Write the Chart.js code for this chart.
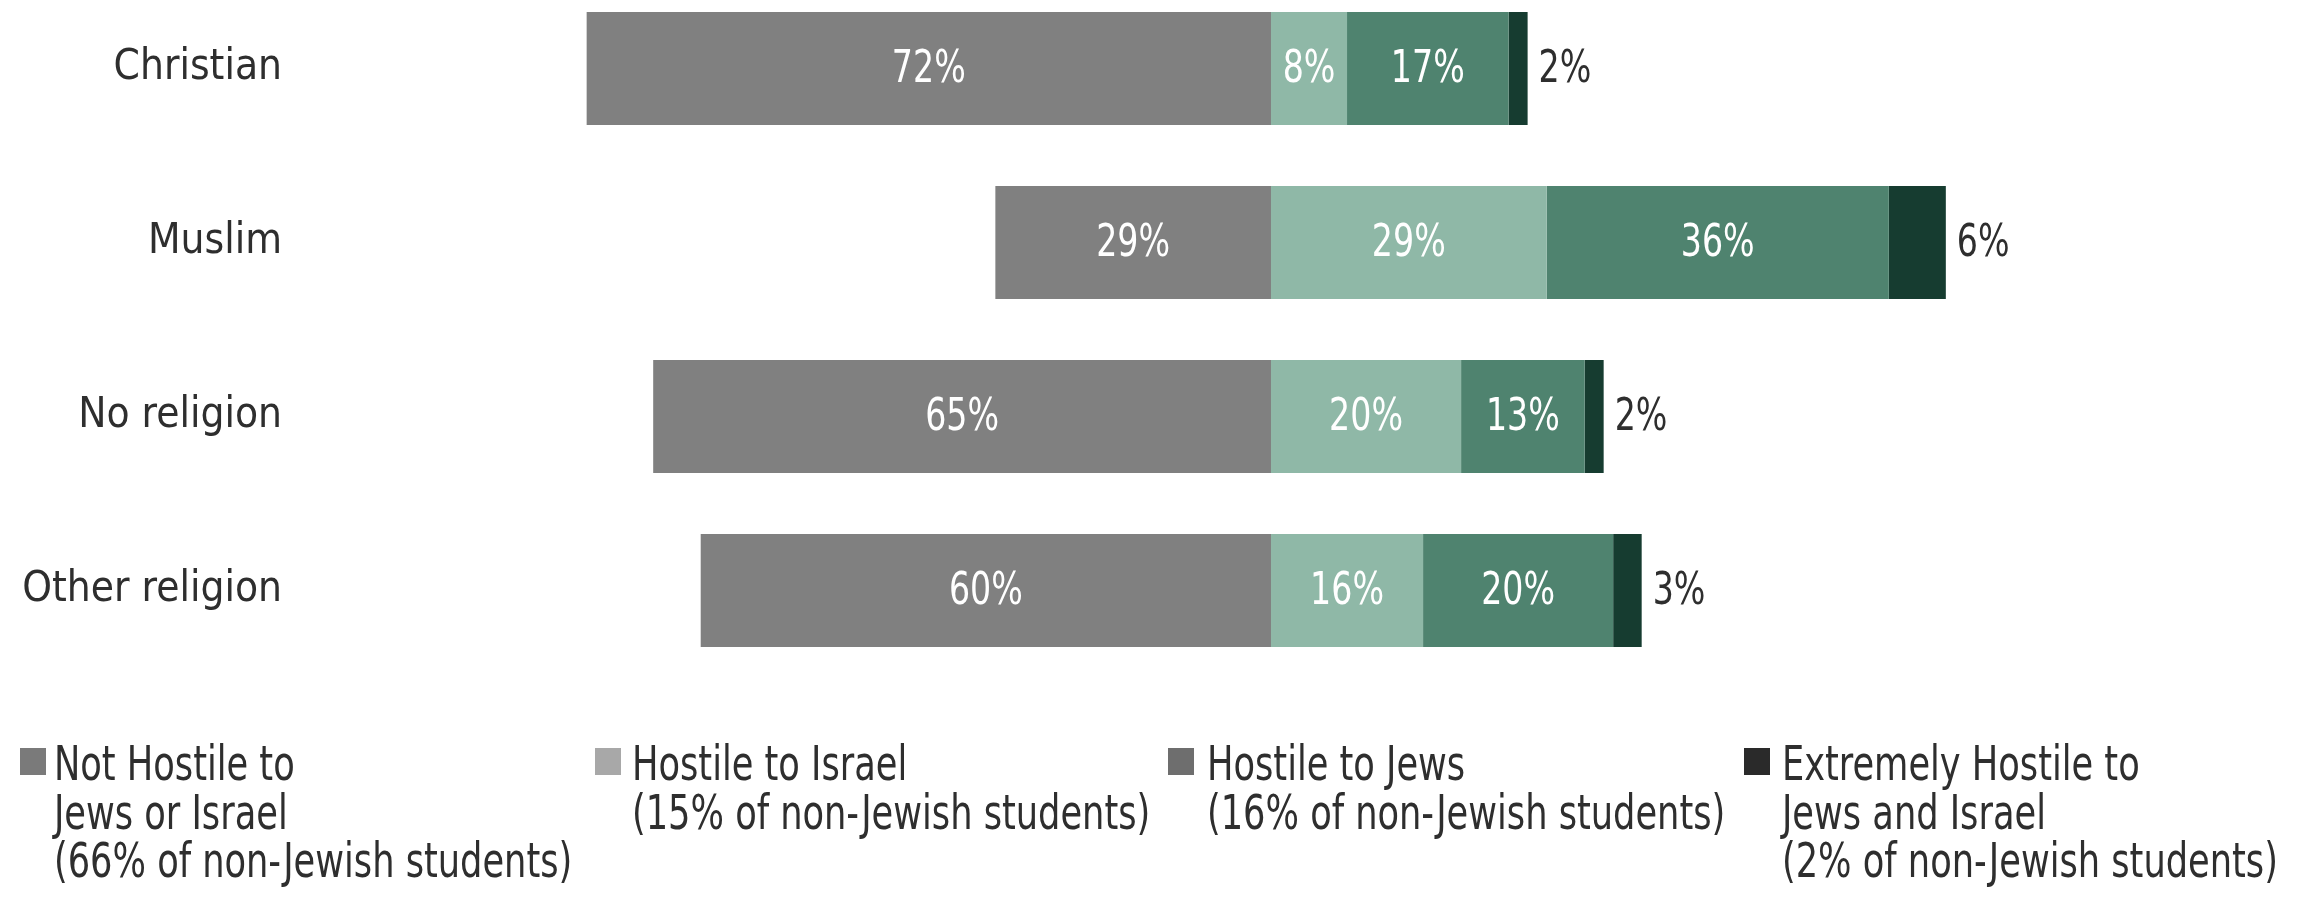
<!DOCTYPE html>
<html>
<head>
<meta charset="utf-8">
<script src="https://cdn.jsdelivr.net/npm/chart.js@4.4.0/dist/chart.umd.min.js"></script>
<style>
  html, body { margin: 0; padding: 0; background: #fff; }
  canvas { display: block; }
</style>
</head>
<body>
<canvas id="chart" width="2302" height="903"></canvas>
<script>
// data
var categories = ["Christian", "Muslim", "No religion", "Other religion"];
var notHostile = [72, 29, 65, 60];
var hostileIsrael = [8, 29, 20, 16];
var hostileJews = [17, 36, 13, 20];
var extremelyHostile = [2, 6, 2, 3];

var seriesNames = ["Not Hostile to Jews or Israel", "Hostile to Israel", "Hostile to Jews", "Extremely Hostile to Jews and Israel"];
var legendLines = [
  ["Not Hostile to", "Jews or Israel", "(66% of non-Jewish students)"],
  ["Hostile to Israel", "(15% of non-Jewish students)"],
  ["Hostile to Jews", "(16% of non-Jewish students)"],
  ["Extremely Hostile to", "Jews and Israel", "(2% of non-Jewish students)"]
];

var barColors = ["#808080", "#8fb8a7", "#4f836f", "#163c30"];
var legendColors = ["#7a7a7a", "#a8a8a8", "#6e6e6e", "#2a2a2a"];
var FONT = "'DejaVu Sans Condensed', 'Liberation Sans', sans-serif";
var TEXT_COLOR = '#2e2e2e';

var seriesData = [notHostile, hostileIsrael, hostileJews, extremelyHostile];

// "not hostile" goes to the left of zero
var datasets = seriesData.map(function(arr, i) {
  return {
    label: seriesNames[i],
    data: arr.map(function(v) { return i === 0 ? -v : v; }),
    backgroundColor: barColors[i],
    borderWidth: 0,
    barPercentage: 0.65,
    categoryPercentage: 1,
    clip: false
  };
});

// text squeezed sideways, the original face is narrow
function squeezedText(ctx, text, x, y, sx, align) {
  ctx.save();
  ctx.translate(x, y);
  ctx.scale(sx, 1);
  ctx.textAlign = align;
  ctx.fillText(text, 0, 0);
  ctx.restore();
}

var barLabels = {
  id: 'barLabels',
  afterDatasetsDraw: function(chart) {
    var ctx = chart.ctx;
    ctx.save();
    ctx.font = '44px ' + FONT;
    ctx.textBaseline = 'middle';
    chart.data.datasets.forEach(function(ds, i) {
      var meta = chart.getDatasetMeta(i);
      meta.data.forEach(function(bar, j) {
        var text = seriesData[i][j] + '%';
        if (i === 3) {
          ctx.fillStyle = TEXT_COLOR;
          squeezedText(ctx, text, bar.x + 11, bar.y + 2, 0.84, 'left');
        } else {
          ctx.fillStyle = '#ffffff';
          squeezedText(ctx, text, (bar.x + bar.base) / 2, bar.y + 2, 0.84, 'center');
        }
      });
    });
    ctx.restore();
  }
};

var legendBox = {
  id: 'legendBox',
  afterDraw: function(chart) {
    var ctx = chart.ctx;
    var swatchX = [20, 595, 1168, 1744];
    var textX = [54, 632, 1207, 1782];
    ctx.save();
    ctx.font = '48px ' + FONT;
    ctx.textBaseline = 'alphabetic';
    legendLines.forEach(function(lines, i) {
      ctx.fillStyle = legendColors[i];
      ctx.fillRect(swatchX[i], 748, 26, 27);
      ctx.fillStyle = TEXT_COLOR;
      lines.forEach(function(line, k) {
        squeezedText(ctx, line, textX[i], 780 + k * 48.5, 0.815, 'left');
      });
    });
    ctx.restore();
  }
};

var ctx = document.getElementById('chart').getContext('2d');
var chart = new Chart(ctx, {
  type: 'bar',
  data: { labels: categories, datasets: datasets },
  plugins: [barLabels, legendBox],
  options: {
    indexAxis: 'y',
    responsive: false,
    animation: false,
    devicePixelRatio: 1,
    layout: { padding: { top: 68.5, bottom: 312.5, left: 0, right: 14 } },
    scales: {
      x: {
        stacked: true,
        display: false,
        min: -103,
        max: 107
      },
      y: {
        stacked: true,
        offset: false,
        grid: { display: false, drawTicks: false },
        border: { display: false },
        ticks: {
          padding: 10,
          color: TEXT_COLOR,
          font: { family: FONT, size: 42 }
        },
        afterFit: function(scale) { scale.width = 292; }
      }
    },
    plugins: {
      legend: { display: false },
      tooltip: { enabled: false }
    }
  }
});
</script>
</body>
</html>
